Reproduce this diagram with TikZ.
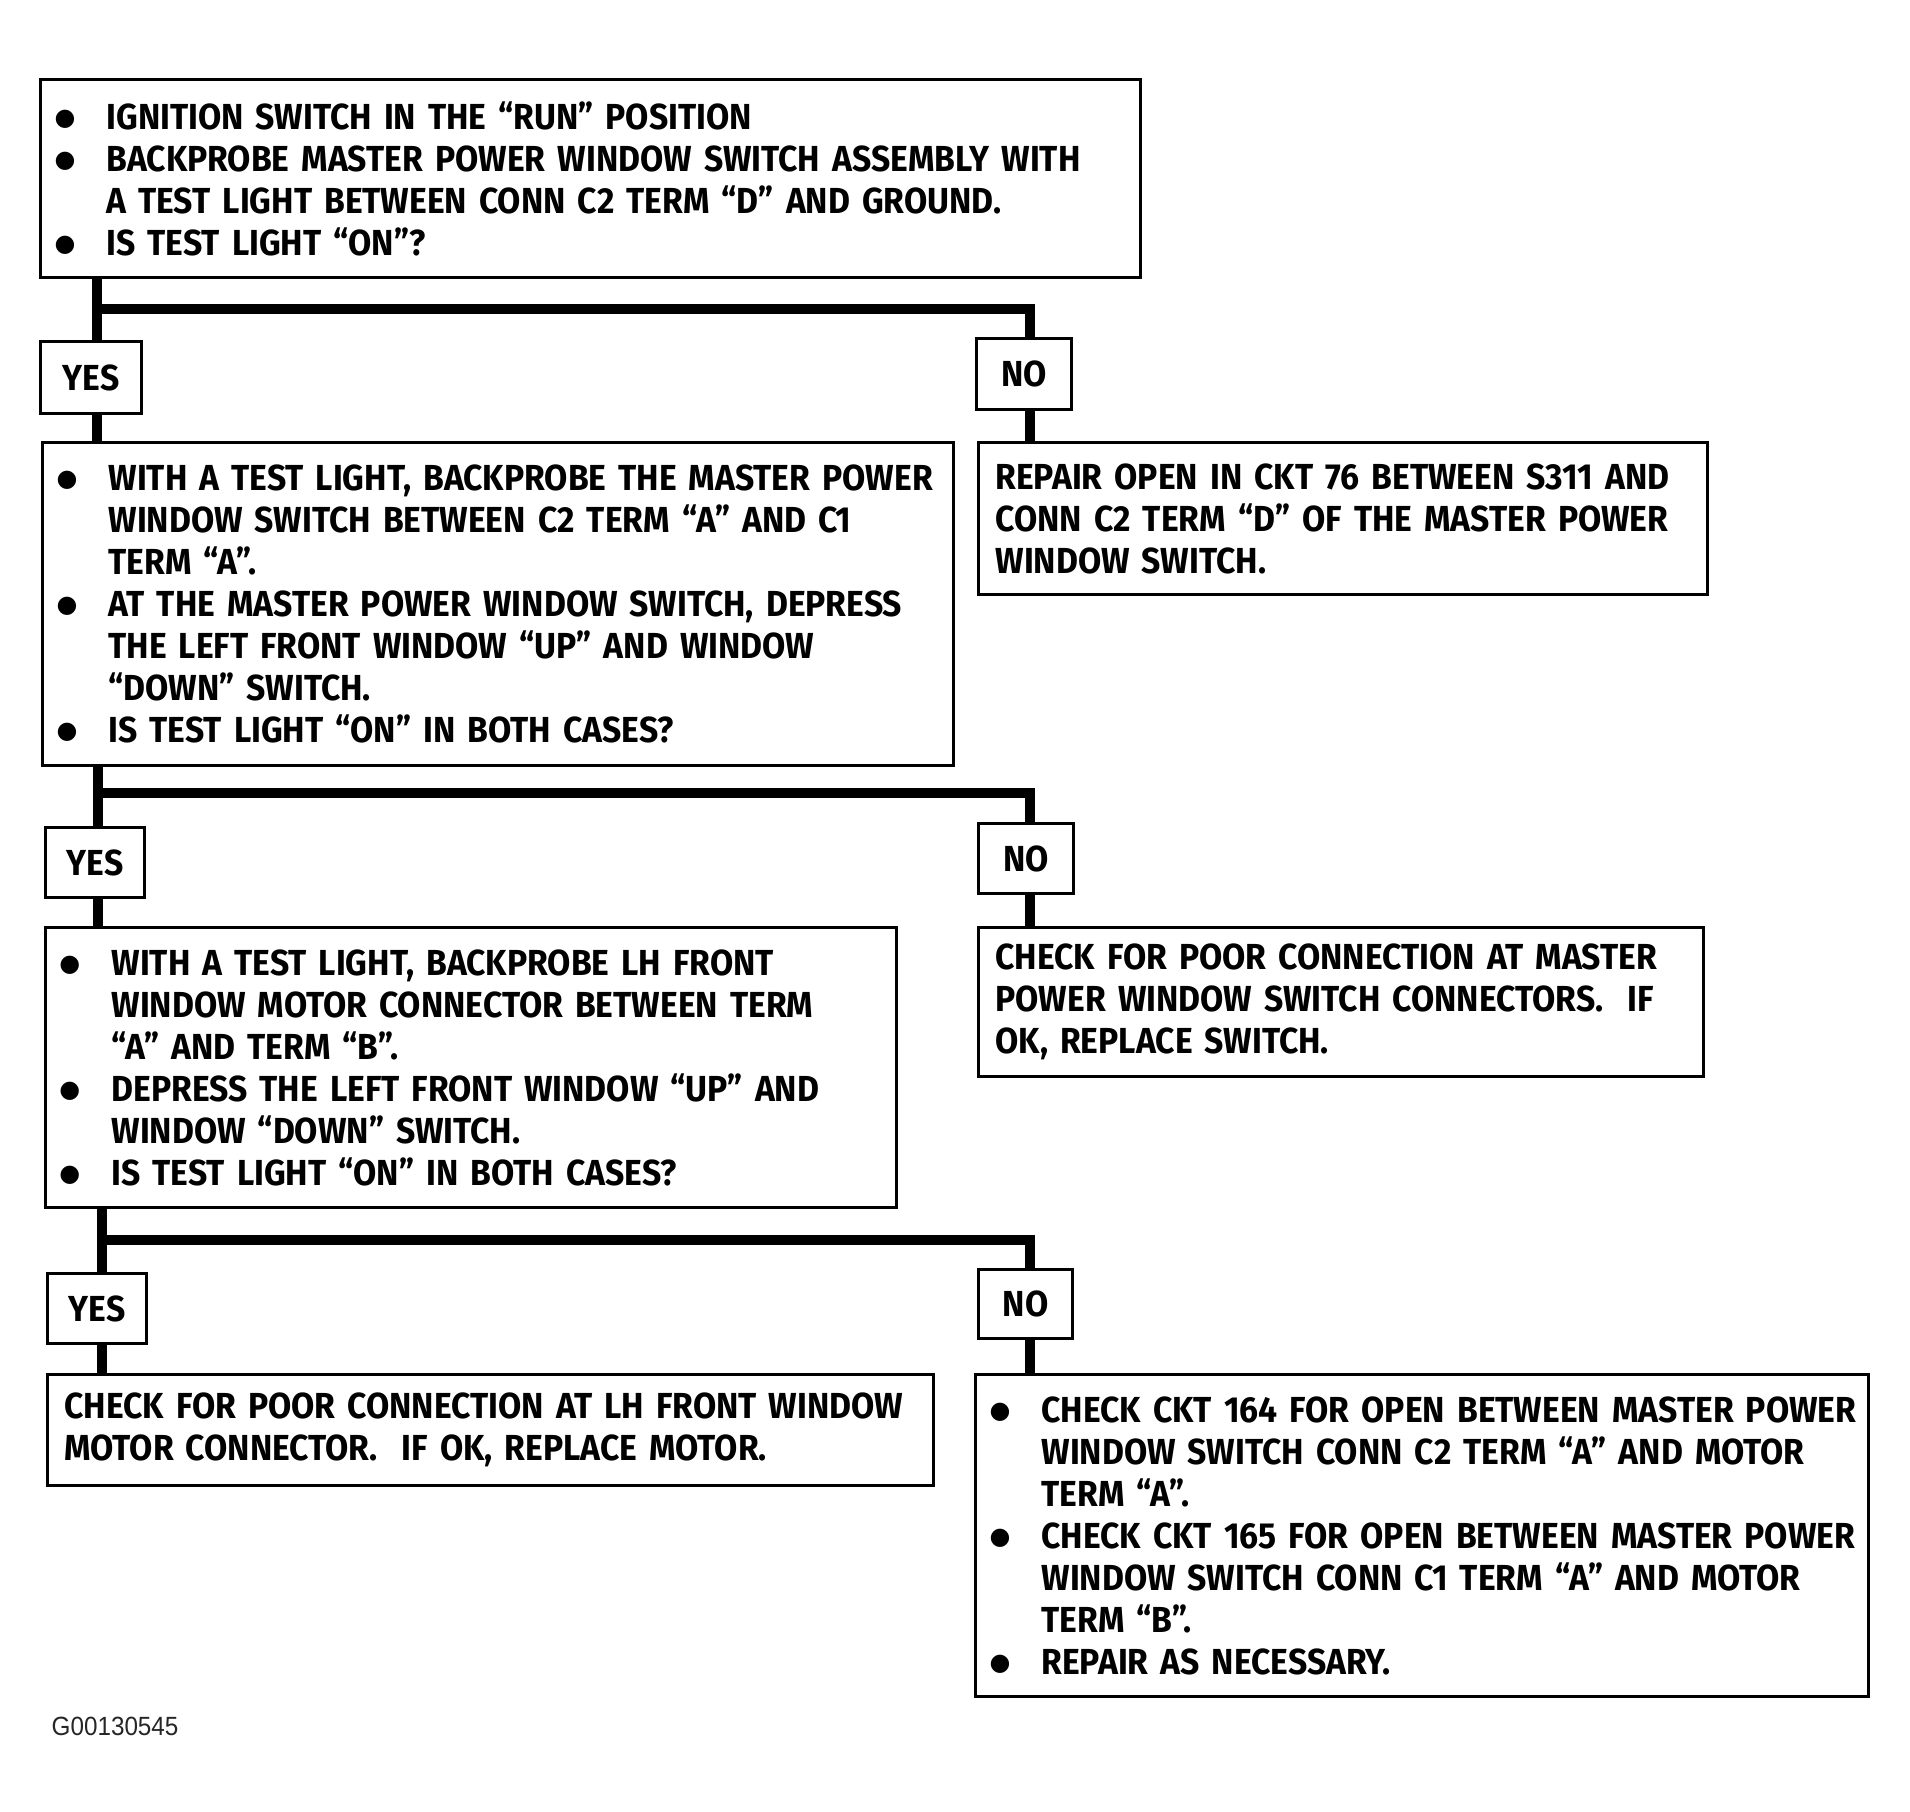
\documentclass[tikz,border=0pt]{standalone}
\usepackage{fontspec}
\setmainfont{Fira Sans}[FakeStretch=0.93]
\newfontfamily\codefont{Liberation Sans}[FakeStretch=0.92]
\newfontfamily\dotfont{DejaVu Sans}
\usetikzlibrary{positioning}

% bullet line, continued line and plain line (lines never wrap)
\newcommand{\itm}[1]{\makebox[5.2mm][l]{\raisebox{1.1pt}{\dotfont\fontsize{6.8pt}{6.8pt}\selectfont ●}}\makebox[0pt][l]{#1}}
\newcommand{\hng}[1]{\hspace*{5.2mm}\makebox[0pt][l]{#1}}
\newcommand{\pln}[1]{\makebox[0pt][l]{#1}}

\begin{document}
\begin{tikzpicture}[x=0.1mm,y=-0.1mm,line join=miter,
    box/.style={draw,line width=0.3mm,anchor=north west,align=left,
      font=\bfseries\fontsize{10.3pt}{11.95pt}\selectfont,inner ysep=0pt},
    listbox/.style={box,inner xsep=1.4mm},
    plainbox/.style={box,inner xsep=1.7mm},
    answer/.style={box,align=center,inner xsep=0pt},
    stem/.style={line width=1mm}]
  \useasboundingbox (0,0) rectangle (1910,1811);

  % first test
  \node[listbox,minimum width=110mm,minimum height=19.8mm,text width=107.2mm] (top) at (39,78)
    {\itm{IGNITION SWITCH IN THE “RUN” POSITION}\\
     \itm{BACKPROBE MASTER POWER WINDOW SWITCH ASSEMBLY WITH}\\
     \hng{A TEST LIGHT BETWEEN CONN C2 TERM “D” AND GROUND.}\\
     \itm{IS TEST LIGHT “ON”?}};
  \node[answer,minimum width=10.1mm,minimum height=7.2mm] (yes1) at (39,340) {YES};
  \node[answer,minimum width=9.5mm,minimum height=7.1mm] (no1) at (975,337) {NO};
  \node[listbox,minimum width=91.1mm,minimum height=32.3mm,text width=88.3mm] (box2) at (41,441)
    {\itm{WITH A TEST LIGHT, BACKPROBE THE MASTER POWER}\\
     \hng{WINDOW SWITCH BETWEEN C2 TERM “A” AND C1}\\
     \hng{TERM “A”.}\\
     \itm{AT THE MASTER POWER WINDOW SWITCH, DEPRESS}\\
     \hng{THE LEFT FRONT WINDOW “UP” AND WINDOW}\\
     \hng{“DOWN” SWITCH.}\\
     \itm{IS TEST LIGHT “ON” IN BOTH CASES?}};
  \node[plainbox,minimum width=72.9mm,minimum height=15.2mm,text width=69.5mm] (res1) at (977,441)
    {\pln{REPAIR OPEN IN CKT 76 BETWEEN S311 AND}\\
     \pln{CONN C2 TERM “D” OF THE MASTER POWER}\\
     \pln{WINDOW SWITCH.}};

  % second test
  \node[answer,minimum width=9.9mm,minimum height=7mm] (yes2) at (44,826) {YES};
  \node[answer,minimum width=9.5mm,minimum height=7mm] (no2) at (977,822) {NO};
  \node[listbox,minimum width=85.1mm,minimum height=28mm,text width=82.3mm] (box3) at (44,926)
    {\itm{WITH A TEST LIGHT, BACKPROBE LH FRONT}\\
     \hng{WINDOW MOTOR CONNECTOR BETWEEN TERM}\\
     \hng{“A” AND TERM “B”.}\\
     \itm{DEPRESS THE LEFT FRONT WINDOW “UP” AND}\\
     \hng{WINDOW “DOWN” SWITCH.}\\
     \itm{IS TEST LIGHT “ON” IN BOTH CASES?}};
  \node[plainbox,minimum width=72.5mm,minimum height=14.9mm,text width=69.1mm] (res2) at (977,926)
    {\pln{CHECK FOR POOR CONNECTION AT MASTER}\\
     \pln{POWER WINDOW SWITCH CONNECTORS.\ \ IF}\\
     \pln{OK, REPLACE SWITCH.}};

  % third test
  \node[answer,minimum width=9.9mm,minimum height=7mm] (yes3) at (46,1272) {YES};
  \node[answer,minimum width=9.4mm,minimum height=6.9mm] (no3) at (977,1268) {NO};
  \node[plainbox,minimum width=88.6mm,minimum height=11.1mm,text width=85.2mm] (res3) at (46,1373)
    {\pln{CHECK FOR POOR CONNECTION AT LH FRONT WINDOW}\\
     \pln{MOTOR CONNECTOR.\ \ IF OK, REPLACE MOTOR.}};
  \node[listbox,minimum width=89.3mm,minimum height=32.2mm,text width=86.5mm] (res4) at (974,1373)
    {\itm{CHECK CKT 164 FOR OPEN BETWEEN MASTER POWER}\\
     \hng{WINDOW SWITCH CONN C2 TERM “A” AND MOTOR}\\
     \hng{TERM “A”.}\\
     \itm{CHECK CKT 165 FOR OPEN BETWEEN MASTER POWER}\\
     \hng{WINDOW SWITCH CONN C1 TERM “A” AND MOTOR}\\
     \hng{TERM “B”.}\\
     \itm{REPAIR AS NECESSARY.}};

  \node[anchor=base west,inner sep=0pt,font=\codefont\fontsize{7.5pt}{9pt}\selectfont,text=black!85] (code) at (51,1735) {G00130545};

  % branch points
  \coordinate (j1) at (97,309);   \coordinate (k1) at (1030,309);
  \coordinate (j2) at (98,793);   \coordinate (k2) at (1030,793);
  \coordinate (j3) at (102,1240); \coordinate (k3) at (1030,1240);

  \draw[stem] (top.south -| j1) -- (yes1.north -| j1);
  \draw[stem] (j1) -- (k1) -- (no1.north -| k1);
  \draw[stem] (yes1.south -| j1) -- (box2.north -| j1);
  \draw[stem] (no1.south -| k1) -- (res1.north -| k1);

  \draw[stem] (box2.south -| j2) -- (yes2.north -| j2);
  \draw[stem] (j2) -- (k2) -- (no2.north -| k2);
  \draw[stem] (yes2.south -| j2) -- (box3.north -| j2);
  \draw[stem] (no2.south -| k2) -- (res2.north -| k2);

  \draw[stem] (box3.south -| j3) -- (yes3.north -| j3);
  \draw[stem] (j3) -- (k3) -- (no3.north -| k3);
  \draw[stem] (yes3.south -| j3) -- (res3.north -| j3);
  \draw[stem] (no3.south -| k3) -- (res4.north -| k3);
\end{tikzpicture}
\end{document}
